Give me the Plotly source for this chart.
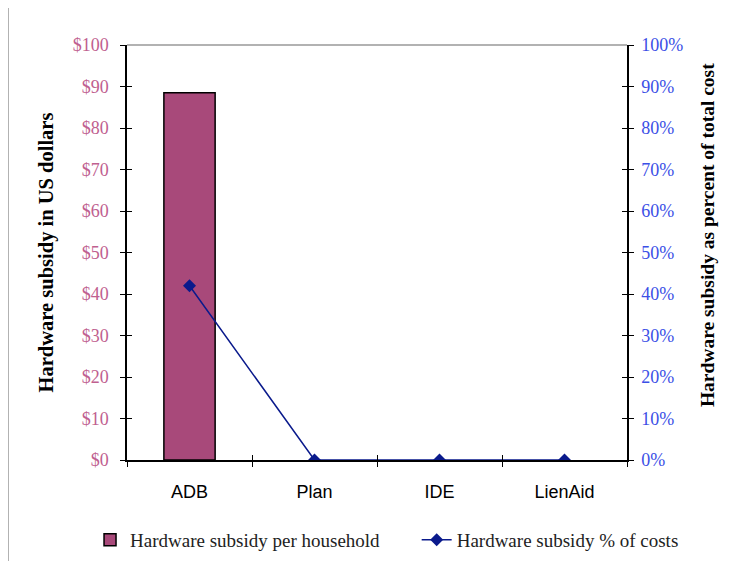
import plotly.graph_objects as go

categories = ["ADB", "Plan", "IDE", "LienAid"]
subsidy_usd = [88.5, 0, 0, 0]
subsidy_pct = [42, 0, 0, 0]
usd_ticks = list(range(0, 101, 10))
usd_labels = ["$" + str(v) for v in usd_ticks]
pct_ticks = list(range(0, 101, 10))
pct_labels = [str(v) + "%" for v in pct_ticks]

SERIF = "Liberation Serif, DejaVu Serif, serif"
SANS = "Liberation Sans, Arial, sans-serif"
BAR_COLOR = "#A8497A"
LINE_COLOR = "#0A1A8C"
LEFT_TICK = "#C0608F"
RIGHT_TICK = "#3B4FE6"

fig = go.Figure()
fig.add_trace(go.Bar(
    x=categories, y=subsidy_usd, name="Hardware subsidy per household",
    marker=dict(color=BAR_COLOR,
                line=dict(color="#000000", width=[1.5 if v > 0 else 0 for v in subsidy_usd])),
    width=0.41, yaxis="y", xaxis="x", legend="legend",
))
fig.add_trace(go.Scatter(
    x=categories, y=subsidy_pct, name="Hardware subsidy % of costs",
    mode="lines+markers", line=dict(color=LINE_COLOR, width=1.5),
    marker=dict(symbol="diamond", size=10, color=LINE_COLOR),
    yaxis="y2", xaxis="x", legend="legend2",
))

legend_font = dict(family=SERIF, size=19, color="#222222")

fig.update_layout(
    width=739, height=561,
    margin=dict(l=119, r=120, t=37, b=109),
    paper_bgcolor="white", plot_bgcolor="white",
    showlegend=True,
    legend=dict(orientation="h", x=0.111, xanchor="left", xref="container",
                y=0.052, yanchor="middle", yref="container",
                font=legend_font, itemwidth=30),
    legend2=dict(orientation="h", x=0.553, xanchor="left", xref="container",
                 y=0.052, yanchor="middle", yref="container",
                 font=legend_font, itemwidth=30),
    xaxis=dict(
        type="category", categoryorder="array", categoryarray=categories,
        range=[-0.5, 3.5], tickson="boundaries", ticks="outside", ticklen=5,
        tickcolor="#000", showline=True, linecolor="#000", linewidth=1.5,
        tickfont=dict(family=SANS, size=18, color="#000"), ticklabelstandoff=15,
        showgrid=False, zeroline=False, fixedrange=True, automargin=False,
    ),
    yaxis=dict(
        range=[0, 100], tickvals=usd_ticks, ticktext=usd_labels,
        ticks="outside", ticklen=5, tickcolor="#000",
        showline=True, linecolor="#000", linewidth=1.5,
        tickfont=dict(family=SERIF, size=18, color=LEFT_TICK), ticklabelstandoff=8,
        title=dict(text="<b>Hardware subsidy in US dollars</b>",
                   font=dict(family=SERIF, size=20.5, color="#000"), standoff=13),
        showgrid=False, zeroline=False, automargin=False,
    ),
    yaxis2=dict(
        range=[0, 100], tickvals=pct_ticks, ticktext=pct_labels,
        overlaying="y", side="right", anchor="x",
        ticks="outside", ticklen=5, tickcolor="#000",
        showline=True, linecolor="#000", linewidth=1.5,
        tickfont=dict(family=SERIF, size=18, color=RIGHT_TICK), ticklabelstandoff=4,
        showgrid=False, zeroline=False, automargin=False,
    ),
    yaxis3=dict(
        range=[0, 100], tickvals=usd_ticks, overlaying="y", side="left", anchor="x",
        ticks="inside", ticklen=5, tickcolor="#000", showticklabels=False,
        showline=False, showgrid=False, zeroline=False, automargin=False,
    ),
    yaxis4=dict(
        range=[0, 100], tickvals=pct_ticks, overlaying="y", side="right", anchor="x",
        ticks="inside", ticklen=5, tickcolor="#000", showticklabels=False,
        showline=False, showgrid=False, zeroline=False, automargin=False,
    ),
    xaxis2=dict(
        range=[-0.5, 3.5], tickvals=[-0.5, 0.5, 1.5, 2.5, 3.5], overlaying="x",
        side="bottom", anchor="y", ticks="inside", ticklen=5, tickcolor="#000",
        showticklabels=False, showline=False, showgrid=False, zeroline=False,
        automargin=False,
    ),
    annotations=[
        dict(text="<b>Hardware subsidy as percent of total cost</b>",
             xref="paper", yref="paper", x=1.16, y=0.542, xanchor="center", yanchor="middle",
             textangle=-90, showarrow=False,
             font=dict(family=SERIF, size=19.5, color="#000")),
    ],
    shapes=[
        dict(type="line", xref="paper", yref="paper", x0=0, x1=1, y0=1, y1=1,
             line=dict(color="#999999", width=1.5)),
        dict(type="line", xref="paper", yref="paper", x0=-0.2375, x1=-0.2375, y0=-0.3, y1=1.0985,
             line=dict(color="#999999", width=1)),
        dict(type="line", xref="paper", yref="paper", x0=-0.2375, x1=1.3, y0=1.0985, y1=1.0985,
             line=dict(color="#666666", width=1.2)),
    ],
)

# invisible helper traces so the overlay tick axes are drawn
fig.add_trace(go.Scatter(x=[None], y=[None], xaxis="x", yaxis="y3", showlegend=False, hoverinfo="skip"))
fig.add_trace(go.Scatter(x=[None], y=[None], xaxis="x", yaxis="y4", showlegend=False, hoverinfo="skip"))
fig.add_trace(go.Scatter(x=[None], y=[None], xaxis="x2", yaxis="y", showlegend=False, hoverinfo="skip"))

fig.write_html("out.html")
